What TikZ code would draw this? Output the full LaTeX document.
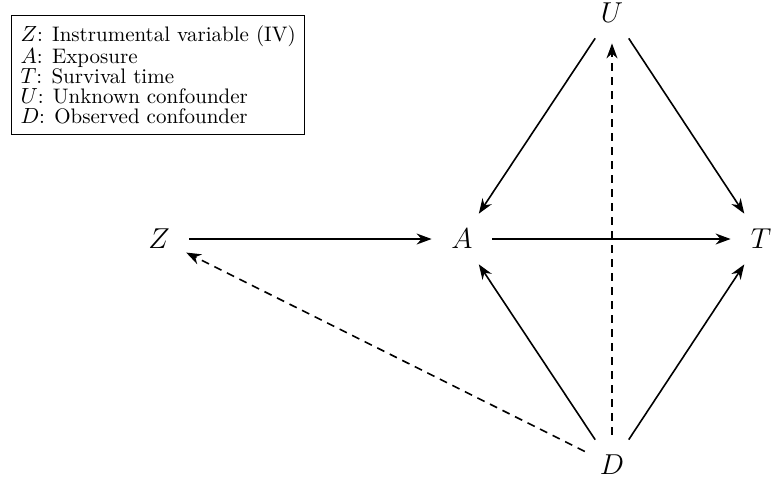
\documentclass[tikz,border=0pt]{standalone}
\usetikzlibrary{arrows.meta}
\begin{document}
\begin{tikzpicture}[x=0.5pt,y=-0.5pt,
  var/.style={circle,minimum size=60pt*0.5,inner sep=0pt,font=\Large},
  arr/.style={line width=0.8pt,-{Stealth[length=7.5pt,width=5.5pt]}},
  darr/.style={arr,dash pattern=on 4pt off 3pt},
  legend/.style={draw,line width=0.5pt,align=left,inner xsep=4.5pt,inner ysep=5.2pt,anchor=north west,font=\fontsize{10.5}{9.9}\selectfont}]
\useasboundingbox (0,0) rectangle (771,483);
\node[var] (Z) at (159,239) {$Z$};
\node[var] (A) at (462,239) {$A$};
\node[var] (T) at (761,239) {$T$};
\node[var] (U) at (612,13) {$U$};
\node[var] (D) at (612,465) {$D$};
\node[legend] (L) at (11,15) {$Z$: Instrumental variable (IV)\\ $A$: Exposure\\ $T$: Survival time\\ $U$: Unknown confounder\\ $D$: Observed confounder};
\draw[arr] (Z) -- (A);
\draw[arr] (A) -- (T);
\draw[arr] (U) -- (A);
\draw[arr] (U) -- (T);
\draw[arr] (D) -- (A);
\draw[arr] (D) -- (T);
\draw[darr] (D) -- (U);
\draw[darr] (D) -- (Z);
\end{tikzpicture}
\end{document}
